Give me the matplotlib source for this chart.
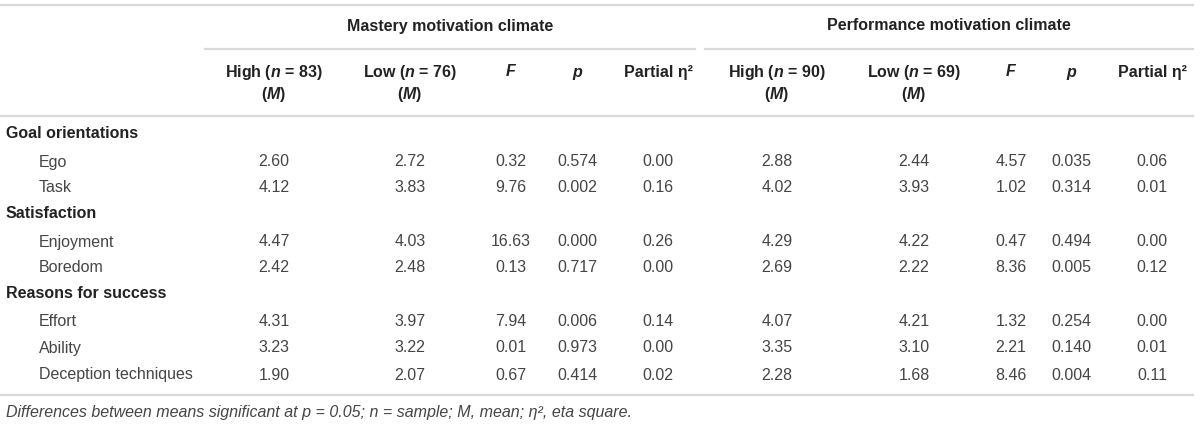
import numpy as np
import matplotlib.pyplot as plt

plt.rcParams['font.family'] = ['Liberation Sans', 'DejaVu Sans']
plt.rcParams['mathtext.fontset'] = 'custom'
plt.rcParams['mathtext.it'] = 'Liberation Sans:italic:bold'
plt.rcParams['mathtext.rm'] = 'Liberation Sans:bold'

# data
groups = ['Goal orientations', 'Satisfaction', 'Reasons for success']
items = [['Ego', 'Task'], ['Enjoyment', 'Boredom'], ['Effort', 'Ability', 'Deception techniques']]

mast_high = [2.60, 4.12, 4.47, 2.42, 4.31, 3.23, 1.90]
mast_low = [2.72, 3.83, 4.03, 2.48, 3.97, 3.22, 2.07]
mast_F = [0.32, 9.76, 16.63, 0.13, 7.94, 0.01, 0.67]
mast_p = [0.574, 0.002, 0.000, 0.717, 0.006, 0.973, 0.414]
mast_eta = [0.00, 0.16, 0.26, 0.00, 0.14, 0.00, 0.02]

perf_high = [2.88, 4.02, 4.29, 2.69, 4.07, 3.35, 2.28]
perf_low = [2.44, 3.93, 4.22, 2.22, 4.21, 3.10, 1.68]
perf_F = [4.57, 1.02, 0.47, 8.36, 1.32, 2.21, 8.46]
perf_p = [0.035, 0.314, 0.494, 0.005, 0.254, 0.140, 0.004]
perf_eta = [0.06, 0.01, 0.00, 0.12, 0.00, 0.01, 0.11]

climates = ['Mastery motivation climate', 'Performance motivation climate']
n_high = [83, 90]
n_low = [76, 69]

W, H = 1200, 429
fig = plt.figure(figsize=(W / 100, H / 100), dpi=100)
ax = fig.add_axes([0, 0, 1, 1])
ax.set_xlim(0, W)
ax.set_ylim(H, 0)
ax.axis('off')

hcol = '#222222'
bcol = '#454545'
line = '#d9d9d9'
fs = 11.5

# column centres
xcols = [[274, 410, 511, 577, 658], [777, 914, 1011, 1071, 1152]]
xgroup = [450, 949]
xr = 1193

# rules
ax.plot([0, xr], [5, 5], color=line, lw=1.6)
ax.plot([205, 695], [49, 49], color=line, lw=1.6)
ax.plot([705, xr], [49, 49], color=line, lw=1.6)
ax.plot([0, xr], [116, 116], color=line, lw=1.6)
ax.plot([0, xr], [395, 395], color=line, lw=1.6)

# headers
for k in range(2):
    ax.text(xgroup[k], 26, climates[k], ha='center', va='center', fontsize=fs,
            fontweight='bold', color=hcol)
    xc = xcols[k]
    ax.text(xc[0], 72, 'High ($n$ = %d)' % n_high[k], ha='center', va='center',
            fontsize=fs, fontweight='bold', color=hcol)
    ax.text(xc[0], 95, '($M$)', ha='center', va='center', fontsize=fs,
            fontweight='bold', color=hcol)
    ax.text(xc[1], 72, 'Low ($n$ = %d)' % n_low[k], ha='center', va='center',
            fontsize=fs, fontweight='bold', color=hcol)
    ax.text(xc[1], 95, '($M$)', ha='center', va='center', fontsize=fs,
            fontweight='bold', color=hcol)
    ax.text(xc[2], 72, 'F', ha='center', va='center', fontsize=fs,
            fontweight='bold', fontstyle='italic', color=hcol)
    ax.text(xc[3], 72, 'p', ha='center', va='center', fontsize=fs,
            fontweight='bold', fontstyle='italic', color=hcol)
    ax.text(xc[4], 72, 'Partial η²', ha='center', va='center', fontsize=fs,
            fontweight='bold', color=hcol)

# body
group_y = [134, 214, 294]
item_y = [[162, 188], [242, 268], [322, 348, 375]]
cols = [[mast_high, mast_low, mast_F, mast_p, mast_eta],
        [perf_high, perf_low, perf_F, perf_p, perf_eta]]
fmts = ['%.2f', '%.2f', '%.2f', '%.3f', '%.2f']

i = 0
for g, gname in enumerate(groups):
    ax.text(6, group_y[g], gname, ha='left', va='center', fontsize=fs,
            fontweight='bold', color=hcol)
    for j, name in enumerate(items[g]):
        y = item_y[g][j]
        ax.text(39, y, name, ha='left', va='center', fontsize=fs, color=bcol)
        for k in range(2):
            for c in range(5):
                ax.text(xcols[k][c], y, fmts[c] % cols[k][c][i], ha='center',
                        va='center', fontsize=fs, color=bcol)
        i += 1

ax.text(6, 412, 'Differences between means significant at p = 0.05; n = sample; '
        'M, mean; η², eta square.', ha='left', va='center', fontsize=fs,
        fontstyle='italic', color=bcol)

fig.savefig('out.png', dpi=100)
